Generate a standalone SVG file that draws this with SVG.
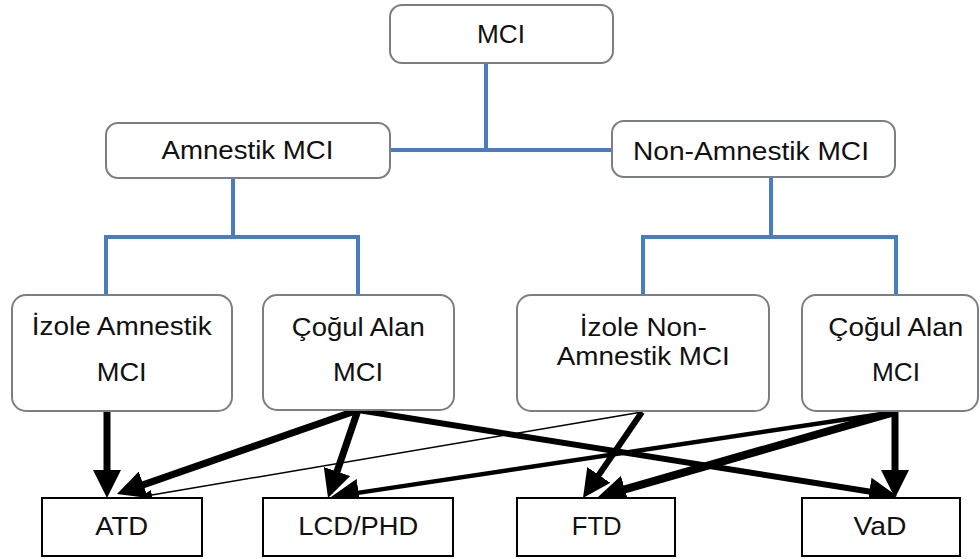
<svg xmlns="http://www.w3.org/2000/svg" width="980" height="559" viewBox="0 0 980 559">
<style>
.n{fill:#fff;stroke:#7a7f86;stroke-width:2}
.b{fill:#fff;stroke:#000;stroke-width:2}
.t{font-family:"Liberation Sans",Arial,sans-serif;font-size:25px;fill:#111;text-anchor:middle}
.c{stroke:#4a7dc0;stroke-width:4;fill:none;stroke-linecap:square}
.a{stroke:#000;fill:none}
</style>
<defs>
<marker id="big" markerUnits="userSpaceOnUse" markerWidth="28" markerHeight="28" refX="11" refY="14" orient="auto">
<path d="M0,0 L28,14 L0,28 z" fill="#000"/>
</marker>
<marker id="small" markerUnits="userSpaceOnUse" markerWidth="12" markerHeight="10" refX="12" refY="5" orient="auto">
<path d="M0,0 L12,5 L0,10 z" fill="#000"/>
</marker>
</defs>
<g id="connectors">
<path class="c" d="M486,63 V150 M390,150 H612"/>
<path class="c" d="M233,178 V237 M106,237 H358 M106,237 V295 M358,237 V295"/>
<path class="c" d="M771,177 V237 M643,237 H896 M643,237 V295 M896,237 V295"/>
<line class="a" x1="107" y1="411" x2="107" y2="481" stroke-width="7" marker-end="url(#big)"/>
<line class="a" x1="358" y1="410" x2="133" y2="488.4" stroke-width="7" marker-end="url(#big)"/>
<line class="a" x1="358" y1="410" x2="333.5" y2="481.9" stroke-width="7" marker-end="url(#big)"/>
<line class="a" x1="358" y1="410" x2="880.2" y2="493.3" stroke-width="6" marker-end="url(#big)"/>
<line class="a" x1="642" y1="412" x2="140" y2="497" stroke-width="1.5" marker-end="url(#small)"/>
<line class="a" x1="642" y1="412" x2="592.6" y2="484" stroke-width="6" marker-end="url(#big)"/>
<line class="a" x1="895" y1="412" x2="347.8" y2="494.4" stroke-width="4.5" marker-end="url(#big)"/>
<line class="a" x1="895" y1="412" x2="614.3" y2="492.3" stroke-width="8" marker-end="url(#big)"/>
<line class="a" x1="895" y1="412" x2="895" y2="481" stroke-width="7" marker-end="url(#big)"/>
</g>
<g id="mci">
<rect class="n" x="390" y="5" width="223" height="58" rx="12"/>
<text class="t" x="501" y="43" textLength="48" lengthAdjust="spacingAndGlyphs">MCI</text>
</g>
<g id="amnestik">
<rect class="n" x="106" y="123" width="284" height="55" rx="12"/>
<text class="t" x="247.5" y="159" textLength="172" lengthAdjust="spacingAndGlyphs">Amnestik MCI</text>
</g>
<g id="non-amnestik">
<rect class="n" x="612" y="121" width="283" height="56" rx="12"/>
<text class="t" x="751" y="160" textLength="236" lengthAdjust="spacingAndGlyphs">Non-Amnestik MCI</text>
</g>
<g id="izole-amnestik">
<rect class="n" x="12" y="295" width="220" height="116" rx="14"/>
<text class="t" x="121.7" y="335" textLength="180" lengthAdjust="spacingAndGlyphs">İzole Amnestik</text>
<text class="t" x="121.7" y="381" textLength="50" lengthAdjust="spacingAndGlyphs">MCI</text>
</g>
<g id="cogul-alan-1">
<rect class="n" x="263" y="295" width="191" height="115" rx="14"/>
<text class="t" x="358.3" y="336" textLength="133" lengthAdjust="spacingAndGlyphs">Çoğul Alan</text>
<text class="t" x="358" y="381" textLength="50" lengthAdjust="spacingAndGlyphs">MCI</text>
</g>
<g id="izole-non-amnestik">
<rect class="n" x="517" y="295" width="252" height="116" rx="14"/>
<text class="t" x="643.3" y="336" textLength="127" lengthAdjust="spacingAndGlyphs">İzole Non-</text>
<text class="t" x="643.3" y="365" textLength="173" lengthAdjust="spacingAndGlyphs">Amnestik MCI</text>
</g>
<g id="cogul-alan-2">
<rect class="n" x="802" y="295" width="176" height="116" rx="14"/>
<text class="t" x="895.8" y="336" textLength="135" lengthAdjust="spacingAndGlyphs">Çoğul Alan</text>
<text class="t" x="896" y="381" textLength="48" lengthAdjust="spacingAndGlyphs">MCI</text>
</g>
<g id="atd">
<rect class="b" x="42" y="498" width="160" height="58"/>
<text class="t" x="121.7" y="535" textLength="53" lengthAdjust="spacingAndGlyphs">ATD</text>
</g>
<g id="lcd-phd">
<rect class="b" x="263" y="498" width="190" height="58"/>
<text class="t" x="358.3" y="535" textLength="120" lengthAdjust="spacingAndGlyphs">LCD/PHD</text>
</g>
<g id="ftd">
<rect class="b" x="517" y="498" width="158" height="58"/>
<text class="t" x="596.7" y="535" textLength="50" lengthAdjust="spacingAndGlyphs">FTD</text>
</g>
<g id="vad">
<rect class="b" x="802" y="498" width="158" height="58"/>
<text class="t" x="880" y="535" textLength="53" lengthAdjust="spacingAndGlyphs">VaD</text>
</g>
</svg>
